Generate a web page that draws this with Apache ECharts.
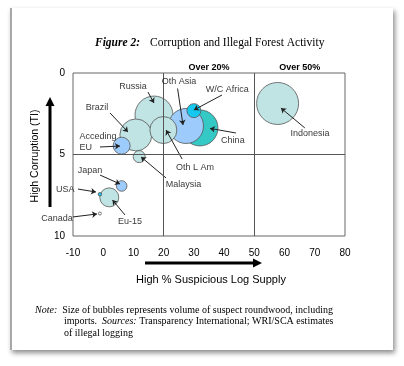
<!DOCTYPE html>
<html><head><meta charset="utf-8">
<script src="https://cdn.jsdelivr.net/npm/echarts@6/dist/echarts.min.js"></script>
<style>
html,body{margin:0;padding:0;background:#fff;}
#card{position:absolute;left:10px;top:8px;width:381px;height:342px;background:#fff;border-left:2px solid #a8a8a8;box-shadow:2px 3px 5px rgba(0,0,0,0.45);}
#chart{position:absolute;left:0;top:0;width:404px;height:366px;}
</style></head><body>
<div id="card"></div><div id="chart"></div>
<script>
// ---- data ----
const regions = ['Indonesia','Russia','China','Oth Asia','W/C Africa','Brazil','Oth L Am','Acceding EU','Malaysia','Japan','Eu-15','USA','Canada'];
const suspiciousPct = [57.7, 16.8, 32.0, 27.4, 30.0, 10.8, 19.9, 6.1, 11.9, 6.1, 2.0, -1.1, -1.1];
const corruption = [1.87, 2.58, 3.37, 3.25, 2.31, 3.80, 3.50, 4.46, 5.13, 6.93, 7.63, 7.44, 8.62];
const suspectVolume = [42, 38, 36, 35, 14, 32, 27, 17, 12, 10.6, 19, 3.6, 3];
const xTickLabels = ['-10','0','10','20','30','40','50','60','70','80'];
const yTickLabels = ['0','5','10'];
const thresholds = [20, 50];
const thresholdLabels = ['Over 20%', 'Over 50%'];

// ---- styles ----
const teal = '#c0e3e3', blue = '#9dcbfb';
const bubbleColors = {
  'Indonesia': teal, 'Russia': teal, 'China': '#35c9c6', 'Oth Asia': blue,
  'W/C Africa': '#16c8ef', 'Brazil': teal, 'Oth L Am': teal, 'Acceding EU': blue,
  'Malaysia': teal, 'Japan': blue, 'Eu-15': teal, 'USA': '#22c4e8', 'Canada': '#ffffff'
};
// annotation anchors (label position, arrow start, arrow tip) in data coords
const annotations = {
  'Russia':      {label:[9.85,0.80], from:[14.8,1.17], to:[16.8,1.84]},
  'Brazil':      {label:[-2.06,2.12], from:[2.24,2.45], to:[8.2,3.62]},
  'Acceding EU': {label:[-8.0,4.23], from:[-1.07,4.54], to:[5.55,4.48], left:true, text:'Acceding\nEU'},
  'Oth Asia':    {label:[25.1,0.55], from:[24.6,0.95], to:[26.4,3.19]},
  'W/C Africa':  {label:[41.0,1.01], from:[39.3,1.35], to:[30.0,2.27]},
  'China':       {label:[42.9,4.17], from:[43.9,3.68], to:[35.3,3.40]},
  'Indonesia':   {label:[68.4,3.71], from:[66.7,3.37], to:[58.8,2.15]},
  'Oth L Am':    {label:[30.4,5.77], from:[26.1,5.28], to:[20.8,3.50]},
  'Malaysia':    {label:[26.6,6.87], from:[20.8,6.44], to:[12.5,5.15]},
  'Japan':       {label:[-4.37,6.01], from:[-1.07,6.26], to:[5.55,6.81]},
  'USA':         {label:[-12.6,7.15], from:[-8.35,7.12], to:[-2.39,7.30]},
  'Canada':      {label:[-15.3,8.93], from:[-10,8.83], to:[-2.06,8.65]},
  'Eu-15':       {label:[8.86,9.14], from:[7.2,8.71], to:[3.07,7.79]}
};

const chart = echarts.init(document.getElementById('chart'), null, {renderer:'canvas'});
const SANS = 'Liberation Sans, Arial, sans-serif';
const SERIF = 'Liberation Serif, Times New Roman, serif';

const bubbleData = regions.map((r, i) => ({
  name: r, value: [suspiciousPct[i], corruption[i], suspectVolume[i]],
  itemStyle: {color: bubbleColors[r]}
}));
const labelData = regions.map(r => {
  const a = annotations[r];
  const d = {name: r, value: a.label};
  if (a.left) d.label = {position: 'right', distance: 0, align: 'left', formatter: a.text, lineHeight: 11};
  return d;
});
const arrowData = regions.map(r => ({coords: [annotations[r].from, annotations[r].to]}));

chart.setOption({
  animation: false,
  backgroundColor: 'transparent',
  title: {
    text: '{b|Figure 2:}  {n|Corruption and Illegal Forest Activity}',
    left: 90, top: 29,
    textStyle: {fontWeight: 'normal', rich: {
      b: {fontFamily: SERIF, fontWeight: 'bold', fontStyle: 'italic', fontSize: 11.5, color: '#000'},
      n: {fontFamily: SERIF, fontWeight: 'normal', fontSize: 11.5, color: '#000'}
    }}
  },
  grid: {left: 73, right: 59, top: 73, bottom: 130, show: true, borderColor: '#666', borderWidth: 1, backgroundColor: 'transparent'},
  xAxis: {
    type: 'value', min: -10, max: 80, interval: 10,
    axisLine: {show: false}, axisTick: {show: false}, splitLine: {show: false},
    axisLabel: {color: '#000', fontSize: 10, fontFamily: SANS, margin: 12,
      formatter: (v) => xTickLabels[Math.round((v + 10) / 10)]}
  },
  yAxis: {
    type: 'value', min: 0, max: 10, interval: 5, inverse: true,
    axisLine: {show: false}, axisTick: {show: false}, splitLine: {show: false},
    axisLabel: {color: '#000', fontSize: 10, fontFamily: SANS, margin: 8,
      formatter: (v) => yTickLabels[Math.round(v / 5)]}
  },
  series: [
    {
      type: 'scatter', name: 'bubbles', data: bubbleData, clip: false,
      symbolSize: (v) => v[2],
      itemStyle: {borderColor: '#555', borderWidth: 0.8, opacity: 1},
      markLine: {
        silent: true, symbol: 'none', label: {show: false},
        lineStyle: {color: '#555', width: 1, type: 'solid'},
        data: [{xAxis: thresholds[0]}, {xAxis: thresholds[1]}, {yAxis: 5}]
      },
      z: 3
    },
    {
      type: 'lines', coordinateSystem: 'cartesian2d', data: arrowData, clip: false,
      symbol: ['none', 'arrow'], symbolSize: 5,
      lineStyle: {color: '#222', width: 1, opacity: 1}, z: 4, silent: true
    },
    {
      type: 'scatter', name: 'labels', data: labelData, clip: false, symbolSize: 1,
      itemStyle: {color: 'transparent'}, silent: true,
      label: {show: true, position: 'inside', formatter: '{b}', color: '#000', fontSize: 9, fontFamily: SANS},
      z: 5
    }
  ],
  graphic: [
    // y axis title + arrow
    {type: 'text', x: 35, y: 156, rotation: Math.PI / 2, style: {text: 'High Corruption (TI)', font: '10.5px ' + SANS, fill: '#000', textAlign: 'center', textVerticalAlign: 'middle'}},
    {type: 'line', shape: {x1: 50, y1: 207, x2: 50, y2: 104}, style: {stroke: '#000', lineWidth: 3}},
    {type: 'polygon', shape: {points: [[50, 97], [45.5, 106], [54.5, 106]]}, style: {fill: '#000'}},
    // x axis title + arrow
    {type: 'text', x: 211, y: 280, style: {text: 'High % Suspicious Log Supply', font: '11px ' + SANS, fill: '#000', textAlign: 'center', textVerticalAlign: 'middle'}},
    {type: 'line', shape: {x1: 145, y1: 263, x2: 255, y2: 263}, style: {stroke: '#000', lineWidth: 3}},
    {type: 'polygon', shape: {points: [[262, 263], [253, 258.5], [253, 267.5]]}, style: {fill: '#000'}},
    // note
    {type: 'text', x: 35, y: 310, style: {text: '{i|Note:}  Size of bubbles represents volume of suspect roundwood, including', textVerticalAlign: 'middle', font: '10px ' + SERIF, fill: '#000',
      rich: {i: {fontStyle: 'italic', fontFamily: SERIF, fontSize: 10}}}},
    {type: 'text', x: 64, y: 321.5, style: {text: 'imports.  {i|Sources:} Transparency International; WRI/SCA estimates', textVerticalAlign: 'middle', font: '10px ' + SERIF, fill: '#000',
      rich: {i: {fontStyle: 'italic', fontFamily: SERIF, fontSize: 10}}}},
    {type: 'text', x: 64, y: 333.5, style: {text: 'of illegal logging', textVerticalAlign: 'middle', font: '10px ' + SERIF, fill: '#000'}}
  ]
});

// threshold headings placed through the axis scale
const hdr = thresholds.map((t, i) => {
  const next = i + 1 < thresholds.length ? thresholds[i + 1] : 80;
  const p = chart.convertToPixel({gridIndex: 0}, [(t + next) / 2, 0]);
  return {id: 'hdr' + i, type: 'text', x: p[0], y: p[1] - 5, style: {text: thresholdLabels[i], font: 'bold 9px ' + SANS, fill: '#000', textAlign: 'center', textVerticalAlign: 'middle'}};
});
chart.setOption({graphic: hdr});
</script>
</body></html>
